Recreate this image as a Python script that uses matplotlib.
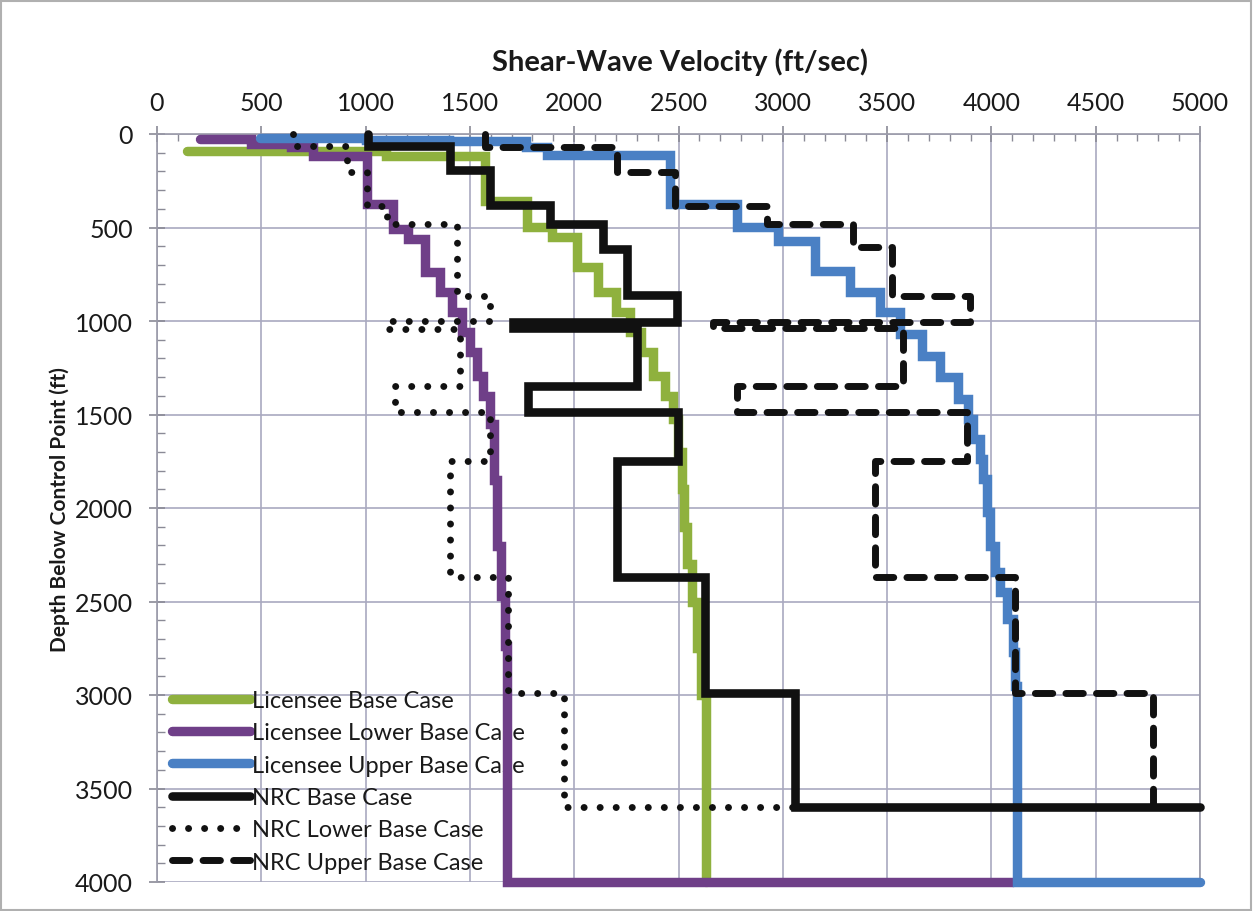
import numpy as np
import matplotlib
matplotlib.use("Agg")
import matplotlib.pyplot as plt
from matplotlib.ticker import MultipleLocator
from matplotlib.patches import Rectangle

plt.rcParams['font.family'] = ['Lato', 'DejaVu Sans']

# ---- data: layer boundaries (ft) and layer velocities (ft/sec) ----
lic_base_depth = [90, 90, 120, 357, 498, 552, 712, 845, 952, 1060, 1167, 1294, 1401, 1524,
                  1700, 1900, 2100, 2300, 2500, 2750, 3000, 4000]
lic_base_vel = [142, 1100, 1570, 1772, 1892, 2012, 2115, 2200, 2268, 2320, 2378, 2435, 2474,
                2498, 2515, 2525, 2541, 2565, 2590, 2610, 2630]

lic_lower_depth = [27, 27, 53, 70, 117, 374, 508, 561, 738, 845, 952, 1060, 1167, 1294, 1401,
                   1550, 1850, 2203, 2470, 2738, 4000, 4000]
lic_lower_vel = [206, 450, 640, 750, 1006, 1131, 1203, 1285, 1357, 1414, 1462, 1500, 1534, 1563,
                 1596, 1615, 1630, 1650, 1670, 1680, 4104]

lic_upper_depth = [20, 20, 30, 40, 70, 112, 374, 497, 572, 732, 845, 952, 1069, 1187, 1299, 1417,
                   1524, 1631, 1740, 1845, 2021, 2203, 2342, 2449, 2594, 2770, 2952, 4000, 4000]
lic_upper_vel = [494, 1000, 1400, 1770, 1870, 2460, 2780, 2977, 3154, 3322, 3466, 3562, 3667, 3754,
                 3840, 3888, 3912, 3945, 3960, 3979, 3993, 4017, 4041, 4075, 4104, 4115, 4122, 5000]

nrc_base_depth = [0, 62, 195, 380, 481, 615, 860, 1006, 1035, 1346, 1488, 1750, 2370, 2990, 3600, 3600]
nrc_base_vel = [1012, 1405, 1595, 1884, 2138, 2253, 2493, 1707, 2300, 1780, 2498, 2205, 2627, 3059, 5000]

nrc_lower_depth = [0, 62, 205, 385, 481, 866, 1000, 1043, 1347, 1488, 1750, 2370, 2990, 3600, 3600]
nrc_lower_vel = [652, 910, 1006, 1103, 1440, 1597, 1103, 1453, 1141, 1597, 1405, 1683, 1950, 3059]

nrc_upper_depth = [0, 70, 205, 385, 481, 604, 866, 1006, 1035, 1347, 1488, 1750, 2370, 2990, 3600, 3600]
nrc_upper_vel = [1570, 2205, 2483, 2924, 3337, 3523, 3897, 2665, 3577, 2780, 3883, 3442, 4113, 4775, 5000]

x_ticks = [0, 500, 1000, 1500, 2000, 2500, 3000, 3500, 4000, 4500, 5000]
y_ticks = [0, 500, 1000, 1500, 2000, 2500, 3000, 3500, 4000]


def step_xy(vel, depth):
    vel = np.asarray(vel, float)
    depth = np.asarray(depth, float)
    x = np.repeat(vel, 2)
    y = np.column_stack([depth[:-1], depth[1:]]).ravel()
    return x, y


W, H = 1254, 912
fig = plt.figure(figsize=(W / 100, H / 100), dpi=100)
ax = fig.add_axes([157 / W, 1 - 883 / H, (1200 - 157) / W, (883 - 135) / H])

green = '#8fb13e'
purple = '#6f3f88'
blue = '#4a80c4'
black = '#111111'

series = [
    (lic_base_vel, lic_base_depth, dict(color=green, lw=6.8, solid_capstyle='round',
                                        solid_joinstyle='miter'), 'Licensee Base Case'),
    (lic_lower_vel, lic_lower_depth, dict(color=purple, lw=6.8, solid_capstyle='round',
                                          solid_joinstyle='miter'), 'Licensee Lower Base Case'),
    (lic_upper_vel, lic_upper_depth, dict(color=blue, lw=6.8, solid_capstyle='round',
                                          solid_joinstyle='miter'), 'Licensee Upper Base Case'),
    (nrc_base_vel, nrc_base_depth, dict(color=black, lw=6.2, solid_capstyle='round',
                                        solid_joinstyle='miter'), 'NRC Base Case'),
    (nrc_lower_vel, nrc_lower_depth, dict(color=black, lw=5.0, linestyle=(0, (0.01, 2.3)),
                                          dash_capstyle='round'), 'NRC Lower Base Case'),
    (nrc_upper_vel, nrc_upper_depth, dict(color=black, lw=5.0, linestyle=(0, (2.5, 1.9)),
                                          dash_capstyle='round'), 'NRC Upper Base Case'),
]

for i, (v, d, style, lab) in enumerate(series):
    x, y = step_xy(v, d)
    ax.plot(x, y, label=lab, clip_on=False, zorder=3 + i, **style)

ax.set_xlim(0, 5000)
ax.set_ylim(4000, 0)
ax.xaxis.tick_top()
ax.set_xticks(x_ticks)
ax.set_yticks(y_ticks)
ax.xaxis.set_minor_locator(MultipleLocator(100))
ax.yaxis.set_minor_locator(MultipleLocator(100))

ax.grid(True, which='major', color='#a9a9c0', lw=1.2, zorder=0)
ax.set_axisbelow(True)
for s in ax.spines.values():
    s.set_color('#9a9aa8')
    s.set_linewidth(1.2)
ax.spines['bottom'].set_visible(False)

ax.tick_params(axis='x', which='major', direction='inout', length=11, width=1.2, color='#8a8a96',
               labelsize=18, pad=9, labelcolor='#1a1a1a', top=True, bottom=False)
ax.tick_params(axis='x', which='minor', direction='in', length=5, width=1.0, color='#8a8a96',
               top=True, bottom=False)
ax.tick_params(axis='y', which='major', direction='inout', length=11, width=1.2, color='#8a8a96',
               labelsize=18, pad=12, labelcolor='#1a1a1a')
ax.tick_params(axis='y', which='minor', direction='in', length=6, width=1.0, color='#8a8a96')

fig.text(680 / W, 1 - 62 / H, 'Shear-Wave Velocity (ft/sec)', ha='center', va='center',
         fontsize=21, fontweight='bold', color='#1a1a1a')
fig.text(60 / W, 1 - 510 / H, 'Depth Below Control Point (ft)', ha='center', va='center',
         rotation=90, fontsize=15, fontweight='bold', color='#1a1a1a')

leg = ax.legend(loc='lower left', bbox_to_anchor=(0.005, 0.0), frameon=False, fontsize=17,
                handlelength=3.3, handletextpad=0.1, labelspacing=0.48, borderpad=0.2,
                borderaxespad=0.2)
for t in leg.get_texts():
    t.set_color('#1a1a1a')
leg.set_zorder(2.5)

fig.add_artist(Rectangle((0.001, 0.001), 0.997, 0.997, transform=fig.transFigure,
                         fill=False, edgecolor='#b0b0b0', lw=1.5))

fig.savefig('out.png', dpi=100)
